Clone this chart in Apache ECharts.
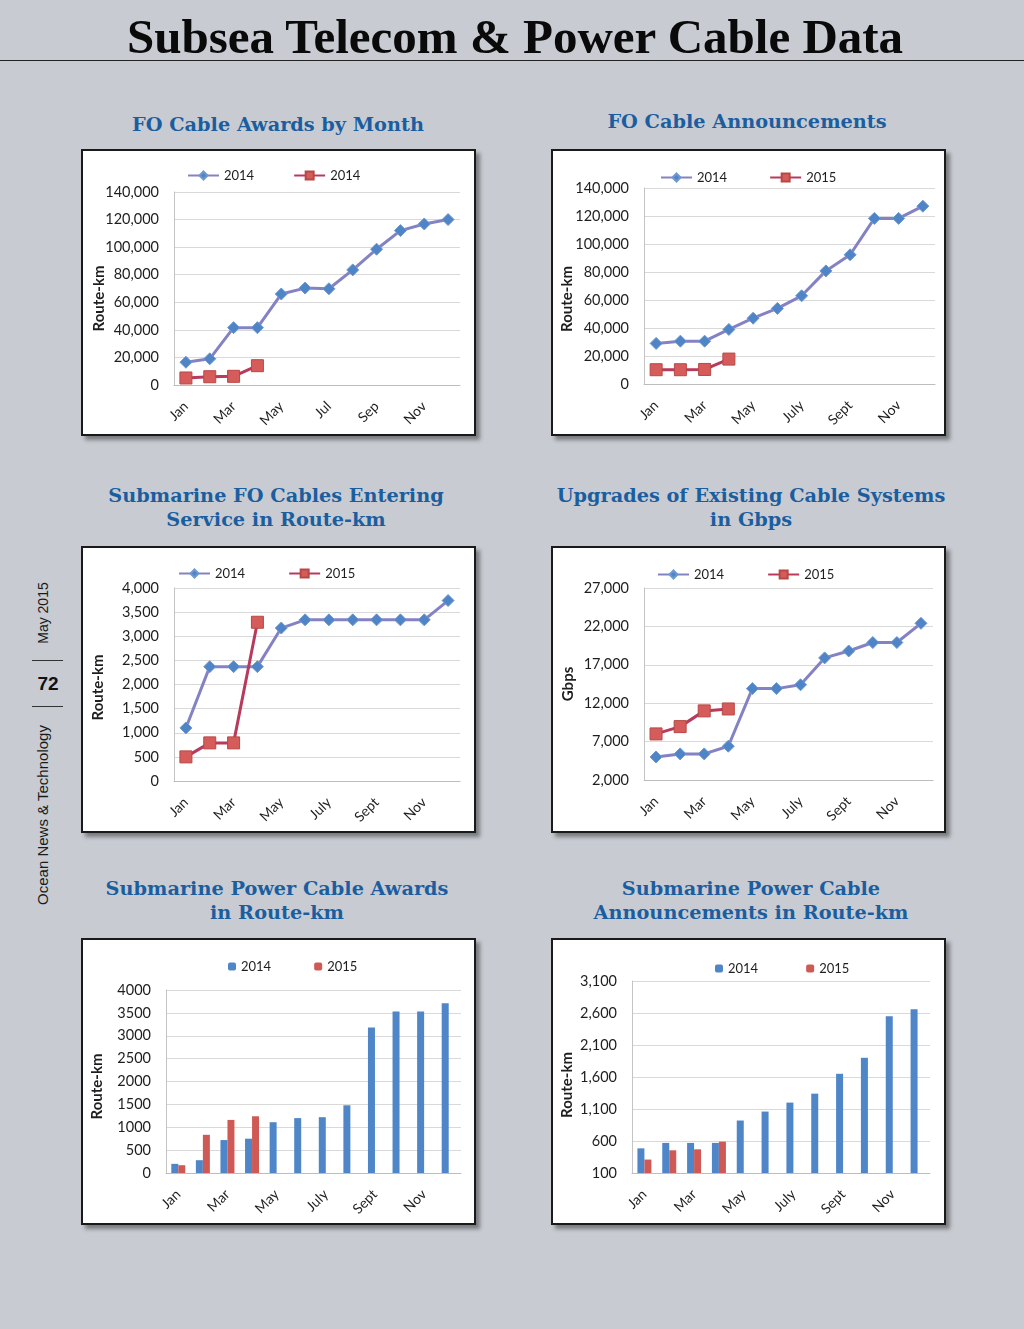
<!DOCTYPE html>
<html><head><meta charset="utf-8">
<script src="https://cdn.jsdelivr.net/npm/echarts@6/dist/echarts.min.js"></script>
<style>
html,body{margin:0;padding:0;}
body{width:1024px;height:1329px;background:#c8ccd2;position:relative;overflow:hidden;font-family:Lato,sans-serif;}
#main-title{position:absolute;left:0;width:1030px;top:13px;text-align:center;font-family:"Liberation Serif",serif;font-weight:bold;font-size:49px;line-height:48px;color:#0a0a0a;white-space:nowrap;}
#rule{position:absolute;left:0;top:60px;width:1024px;height:0;border-top:1.5px solid #222;}
.ctitle{position:absolute;width:540px;text-align:center;font-family:"DejaVu Serif",serif;font-weight:bold;font-size:19.3px;line-height:24px;color:#1b5ea0;white-space:nowrap;}
.panel{position:absolute;box-sizing:border-box;background:#fff;border:2px solid #1a1a1a;box-shadow:4px 4px 4px rgba(0,0,0,0.4);}
.chart{position:absolute;}
.vtext{position:absolute;width:220px;height:20px;line-height:20px;text-align:center;font-family:"Liberation Sans",Arial,sans-serif;font-size:14px;color:#1a1a1a;transform:rotate(-90deg);white-space:nowrap;}
.hrule{position:absolute;left:32px;width:31px;height:0;border-top:1px solid #333;}
#pageno{position:absolute;left:28px;width:40px;top:672px;text-align:center;font-family:"Liberation Sans",Arial,sans-serif;font-weight:bold;font-size:19px;line-height:24px;color:#111;}
</style>
</head>
<body>
<div id="main-title">Subsea Telecom &amp; Power Cable Data</div>
<div id="rule"></div>

<div class="vtext" style="left:-67px;top:603px;">May 2015</div>
<div class="hrule" style="top:660px;"></div>
<div id="pageno">72</div>
<div class="hrule" style="top:706px;"></div>
<div class="vtext" style="left:-67px;top:805px;font-size:15px;">Ocean News &amp; Technology</div>

<div class="ctitle" style="left:8px;top:113px;">FO Cable Awards by Month</div>
<div class="ctitle" style="left:477px;top:110px;">FO Cable Announcements</div>
<div class="ctitle" style="left:6px;top:484px;">Submarine FO Cables Entering<br>Service in Route-km</div>
<div class="ctitle" style="left:481px;top:484px;">Upgrades of Existing Cable Systems<br>in Gbps</div>
<div class="ctitle" style="left:7px;top:877px;">Submarine Power Cable Awards<br>in Route-km</div>
<div class="ctitle" style="left:481px;top:877px;">Submarine Power Cable<br>Announcements in Route-km</div>

<div class="panel" style="left:81px;top:149px;width:395px;height:287px;"></div>
<div class="panel" style="left:551px;top:149px;width:395px;height:287px;"></div>
<div class="panel" style="left:81px;top:546px;width:395px;height:287px;"></div>
<div class="panel" style="left:551px;top:546px;width:395px;height:287px;"></div>
<div class="panel" style="left:81px;top:938px;width:395px;height:287px;"></div>
<div class="panel" style="left:551px;top:938px;width:395px;height:287px;"></div>

<div class="chart" id="c1"></div>
<div class="chart" id="c2"></div>
<div class="chart" id="c3"></div>
<div class="chart" id="c4"></div>
<div class="chart" id="c5"></div>
<div class="chart" id="c6"></div>

<script>
// ---------- categories ----------
const monthsShort = ['Jan','Feb','Mar','Apr','May','Jun','Jul','Aug','Sep','Oct','Nov','Dec'];
const monthsLong = ['Jan','Feb','Mar','Apr','May','June','July','Aug','Sept','Oct','Nov','Dec'];

// ---------- series values ----------
const foAwards2014 = [16500, 19000, 41600, 41600, 66000, 70300, 69800, 83500, 98500, 112000, 116800, 120000];
const foAwards2014b = [5100, 6000, 6300, 14000];

const foAnn2014 = [29000, 30600, 30600, 39000, 47000, 54000, 63000, 80800, 92300, 118300, 118300, 127000];
const foAnn2015 = [10200, 10200, 10400, 17800];

const foService2014 = [1100, 2370, 2370, 2370, 3170, 3340, 3340, 3340, 3340, 3340, 3340, 3740];
const foService2015 = [500, 790, 790, 3290];

const upgrades2014 = [5000, 5400, 5400, 6400, 13900, 13900, 14400, 17900, 18800, 19900, 19900, 22400];
const upgrades2015 = [8000, 8950, 11000, 11250];

const powerAwards2014 = [200, 280, 720, 750, 1110, 1200, 1220, 1480, 3180, 3530, 3530, 3710];
const powerAwards2015 = [170, 835, 1160, 1240];

const powerAnn2014 = [485, 570, 570, 570, 920, 1060, 1200, 1340, 1650, 1900, 2550, 2660];
const powerAnn2015 = [310, 455, 470, 590];

// ---------- legend labels ----------
const foAwardsLegend = ['2014', '2014'];
const yearLegend = ['2014', '2015'];

// ---------- y tick labels ----------
const foAwardsTicks = [0, 20000, 40000, 60000, 80000, 100000, 120000, 140000];
const foAnnTicks = [0, 20000, 40000, 60000, 80000, 100000, 120000, 140000];
const foServiceTicks = [0, 500, 1000, 1500, 2000, 2500, 3000, 3500, 4000];
const upgradesTicks = [2000, 7000, 12000, 17000, 22000, 27000];
const powerAwardsTicks = [0, 500, 1000, 1500, 2000, 2500, 3000, 3500, 4000];
const powerAnnTicks = [100, 600, 1100, 1600, 2100, 2600, 3100];

// ---------- layout (page coordinates) ----------
const layouts = [
  {id:'c1', type:'line', cats:monthsShort, s1:foAwards2014, s2:foAwards2014b, legend:foAwardsLegend, ticks:foAwardsTicks, comma:true, yName:'Route-km',
   panel:[81,149,395,287], grid:[174,192,460,385], leg:[187,175], gap:39, nameGap:67, nameShift:10},
  {id:'c2', type:'line', cats:monthsLong, s1:foAnn2014, s2:foAnn2015, legend:yearLegend, ticks:foAnnTicks, comma:true, yName:'Route-km',
   panel:[551,149,395,287], grid:[644,188,935,384], leg:[660,177], gap:42, nameGap:69, nameShift:13},
  {id:'c3', type:'line', cats:monthsLong, s1:foService2014, s2:foService2015, legend:yearLegend, ticks:foServiceTicks, comma:true, yName:'Route-km',
   panel:[81,546,395,287], grid:[174,588,460,781], leg:[178,573], gap:43, nameGap:68, nameShift:3},
  {id:'c4', type:'line', cats:monthsLong, s1:upgrades2014, s2:upgrades2015, legend:yearLegend, ticks:upgradesTicks, comma:true, yName:'Gbps',
   panel:[551,546,395,287], grid:[644,588,933,780], leg:[657,574], gap:43, nameGap:68, nameShift:0},
  {id:'c5', type:'bar', cats:monthsLong, s1:powerAwards2014, s2:powerAwards2015, legend:yearLegend, ticks:powerAwardsTicks, comma:false, yName:'Route-km',
   panel:[81,938,395,287], grid:[166,990,461,1173], leg:[228,966], gap:43, nameGap:61, nameShift:5},
  {id:'c6', type:'bar', cats:monthsLong, s1:powerAnn2014, s2:powerAnn2015, legend:yearLegend, ticks:powerAnnTicks, comma:true, yName:'Route-km',
   panel:[551,938,395,287], grid:[632,981,930,1173], leg:[715,968], gap:48, nameGap:57, nameShift:8}
];

const FONT = 'Lato';
const TXT = '#1e1e1e';

function fmt(v, comma) {
  return comma ? v.toLocaleString('en-US') : String(v);
}

function build(c) {
  const el = document.getElementById(c.id);
  const [px, py, pw, ph] = c.panel;
  el.style.left = px + 'px'; el.style.top = py + 'px';
  el.style.width = pw + 'px'; el.style.height = ph + 'px';
  const chart = echarts.init(el, null, {renderer: 'canvas'});
  const [L, T, R, B] = c.grid;
  const isBar = c.type === 'bar';
  const t = c.ticks;

  let series;
  if (isBar) {
    series = [
      {name:'a', type:'bar', data:c.s1, barWidth:7, barGap:'0%', itemStyle:{color:'#4f86c8'}},
      {name:'b', type:'bar', data:c.s2, barWidth:7, barGap:'0%', itemStyle:{color:'#cf5a55'}}
    ];
  } else {
    series = [
      {name:'a', type:'line', data:c.s1, symbol:'diamond', symbolSize:12,
       lineStyle:{color:'#8482c4', width:3}, itemStyle:{color:'#4f84c6', borderColor:'#6e98d2', borderWidth:1}},
      {name:'b', type:'line', data:c.s2, symbol:'rect', symbolSize:12,
       lineStyle:{color:'#b83a5c', width:3}, itemStyle:{color:'#d55c5a', borderColor:'#b84844', borderWidth:1}}
    ];
  }

  chart.setOption({
    animation: false,
    textStyle: {fontFamily: FONT},
    grid: {left: L - px, top: T - py, width: R - L, height: B - T, containLabel: false, outerBoundsMode: 'none'},
    legend: {
      left: c.leg[0] - px, top: c.leg[1] - py - 6, padding: 0,
      itemWidth: isBar ? 8 : 31, itemHeight: isBar ? 8 : 10, itemGap: c.gap,
      textStyle: {fontFamily: FONT, fontSize: 13, color: TXT},
      data: ['a', 'b'],
      formatter: function (n) { return n === 'a' ? c.legend[0] : c.legend[1]; }
    },
    xAxis: {
      type: 'category', data: c.cats, boundaryGap: true,
      axisLine: {show: true, lineStyle: {color: '#bdbdbd', width: 1}},
      axisTick: {show: false},
      splitLine: {show: false},
      axisLabel: {interval: 1, rotate: 45, margin: 19, fontFamily: FONT, fontSize: 14, color: TXT}
    },
    yAxis: {
      type: 'value', min: t[0], max: t[t.length - 1], interval: t[1] - t[0],
      axisLine: {show: true, lineStyle: {color: '#c4c4c4', width: 1}},
      axisTick: {show: false},
      splitLine: {show: true, lineStyle: {color: '#d9d9d9', width: 1}},
      axisLabel: {margin: 15, fontFamily: FONT, fontSize: 14.5, color: TXT,
        formatter: function (v) { return fmt(v, c.comma); }},
      name: c.yName, nameLocation: 'middle', nameGap: c.nameGap, nameMoveOverlap: false,
      nameTextStyle: {fontFamily: FONT, fontWeight: 'bold', fontSize: 15, color: TXT,
        padding: [0, c.nameShift * 2, 0, 0]}
    },
    series: series
  });
}

layouts.forEach(build);
</script>
</body></html>
